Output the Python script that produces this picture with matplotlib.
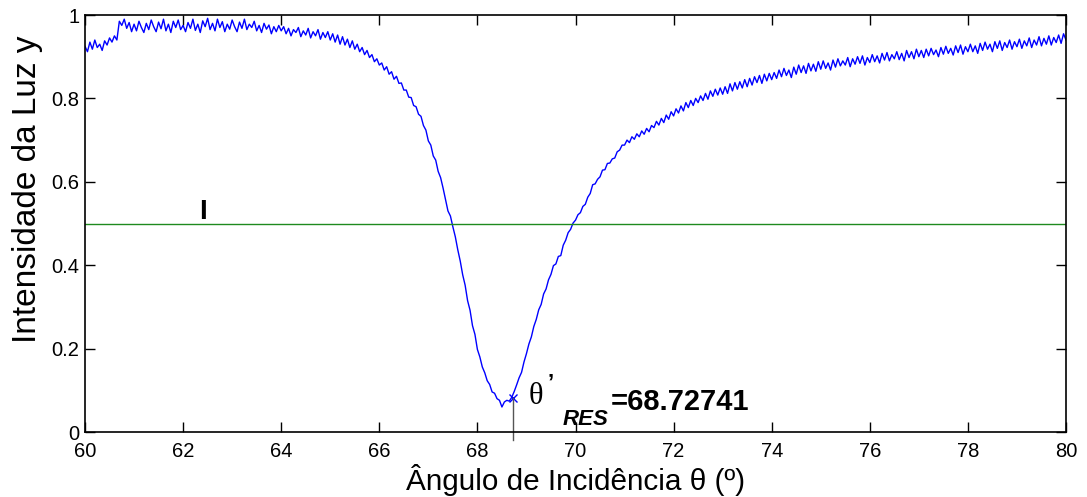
import numpy as np
import matplotlib
matplotlib.use("Agg")
import matplotlib.pyplot as plt

intensity = [
    # 60.00 - 60.65
    0.925, 0.912, 0.935, 0.918, 0.940, 0.922, 0.930, 0.915, 0.938, 0.928, 0.945, 0.935, 0.950, 0.940,
    # 60.70 - 64.00
    0.985, 0.975, 0.990, 0.968, 0.982, 0.960, 0.978, 0.962, 0.985, 0.970, 0.958, 0.980, 0.965, 0.988,
    0.972, 0.960, 0.983, 0.967, 0.990, 0.962, 0.978, 0.958, 0.985, 0.970, 0.988, 0.965, 0.975, 0.960,
    0.982, 0.968, 0.990, 0.963, 0.978, 0.958, 0.986, 0.972, 0.992, 0.965, 0.980, 0.962, 0.990, 0.970,
    0.984, 0.960, 0.978, 0.966, 0.988, 0.972, 0.960, 0.983, 0.968, 0.990, 0.965, 0.978, 0.970, 0.985,
    0.962, 0.975, 0.958, 0.980, 0.966, 0.976, 0.955, 0.972, 0.960, 0.975, 0.962,
    # 64.05 - 66.00
    0.972, 0.955, 0.968, 0.950, 0.965, 0.958, 0.970, 0.948, 0.962, 0.952, 0.968, 0.945, 0.960, 0.950,
    0.965, 0.942, 0.958, 0.946, 0.960, 0.940, 0.955, 0.935, 0.952, 0.930, 0.948, 0.928, 0.942, 0.922,
    0.938, 0.918, 0.930, 0.912, 0.922, 0.905, 0.915, 0.898, 0.905, 0.888, 0.895, 0.880,
    # 66.05 - 67.50
    0.885, 0.868, 0.876, 0.858, 0.864, 0.846, 0.853, 0.836, 0.837, 0.820, 0.820, 0.803, 0.802, 0.783,
    0.780, 0.762, 0.757, 0.735, 0.724, 0.698, 0.688, 0.662, 0.652, 0.625, 0.610, 0.585, 0.558, 0.530,
    0.518, 0.492,
    # 67.55 - 70.95
    0.468, 0.437, 0.410, 0.377, 0.352, 0.315, 0.292, 0.255, 0.234, 0.198, 0.180, 0.156, 0.142, 0.123,
    0.114, 0.096, 0.093, 0.080, 0.076, 0.060, 0.072, 0.076, 0.074, 0.083, 0.097, 0.113, 0.130, 0.143,
    0.168, 0.188, 0.211, 0.228, 0.253, 0.270, 0.293, 0.306, 0.331, 0.343, 0.365, 0.378, 0.399, 0.403,
    0.421, 0.423, 0.448, 0.460, 0.478, 0.486, 0.501, 0.508, 0.521, 0.526, 0.541, 0.546, 0.563, 0.572,
    0.593, 0.595, 0.606, 0.612, 0.628, 0.629, 0.644, 0.645, 0.655, 0.657, 0.672, 0.676, 0.688,
    # 71.00 - 72.00
    0.688, 0.700, 0.694, 0.708, 0.702, 0.715, 0.708, 0.722, 0.714, 0.728, 0.720, 0.735, 0.730, 0.745,
    0.736, 0.752, 0.742, 0.760, 0.750, 0.768, 0.758,
    # 72.05 - 73.00
    0.775, 0.765, 0.782, 0.770, 0.790, 0.778, 0.795, 0.783, 0.800, 0.790, 0.806, 0.795, 0.812, 0.798,
    0.818, 0.805, 0.822, 0.808, 0.825, 0.810,
    # 73.05 - 74.00
    0.828, 0.812, 0.835, 0.818, 0.838, 0.822, 0.840, 0.825, 0.845, 0.828, 0.848, 0.832, 0.852, 0.838,
    0.855, 0.836, 0.858, 0.842, 0.860, 0.845,
    # 74.05 - 75.00
    0.862, 0.848, 0.868, 0.852, 0.872, 0.855, 0.868, 0.850, 0.875, 0.858, 0.880, 0.862, 0.878, 0.860,
    0.884, 0.866, 0.882, 0.865, 0.888, 0.870,
    # 75.05 - 76.00
    0.890, 0.872, 0.885, 0.868, 0.892, 0.875, 0.895, 0.878, 0.890, 0.880, 0.898, 0.876, 0.895, 0.882,
    0.900, 0.884, 0.902, 0.880, 0.898, 0.886,
    # 76.05 - 77.00
    0.905, 0.888, 0.902, 0.885, 0.908, 0.892, 0.910, 0.890, 0.905, 0.895, 0.912, 0.893, 0.908, 0.890,
    0.915, 0.898, 0.912, 0.895, 0.918, 0.900,
    # 77.05 - 78.00
    0.915, 0.898, 0.918, 0.902, 0.920, 0.905, 0.916, 0.900, 0.922, 0.906, 0.925, 0.908, 0.920, 0.904,
    0.926, 0.910, 0.928, 0.906, 0.924, 0.912,
    # 78.05 - 79.00
    0.930, 0.912, 0.926, 0.908, 0.932, 0.915, 0.935, 0.918, 0.930, 0.912, 0.936, 0.920, 0.938, 0.915,
    0.934, 0.922, 0.940, 0.918, 0.936, 0.924,
    # 79.05 - 80.00
    0.942, 0.920, 0.938, 0.926, 0.945, 0.922, 0.940, 0.928, 0.948, 0.926, 0.944, 0.930, 0.950, 0.928,
    0.946, 0.934, 0.952, 0.932, 0.955, 0.940,
]
angle_start = 60.0
angle_step = 0.05
half_level = 0.5
theta_res = 68.72741
theta_res_y = 0.082
x_ticks = [60, 62, 64, 66, 68, 70, 72, 74, 76, 78, 80]
y_ticks = [0, 0.2, 0.4, 0.6, 0.8, 1.0]
y_tick_labels = ["0", "0.2", "0.4", "0.6", "0.8", "1"]

angles = angle_start + angle_step * np.arange(len(intensity))

plt.rcParams['font.family'] = ['Liberation Sans', 'DejaVu Sans']

fig = plt.figure(figsize=(10.87, 4.97), dpi=100)
ax = fig.add_axes([85 / 1087, 65 / 497, (1066 - 85) / 1087, (432 - 15) / 497])

ax.plot(angles, intensity, color='#0000ff', lw=1.0)
ax.axhline(half_level, color='#1f8a1f', lw=1.0)
ax.plot([theta_res], [theta_res_y], marker='x', color='#0000ff', ms=6, mew=1.0)
ax.plot([theta_res, theta_res], [theta_res_y, -0.018], color='#555555', lw=1.0, clip_on=False)

ax.set_xlim(60, 80)
ax.set_ylim(0, 1)
ax.set_xticks(x_ticks)
ax.set_yticks(y_ticks)
ax.set_yticklabels(y_tick_labels)
ax.tick_params(direction='in', length=7, width=1, top=True, right=True, labelsize=14.5)
ax.tick_params(axis='x', pad=7)
ax.tick_params(axis='y', pad=4)
for s in ax.spines.values():
    s.set_linewidth(1.2)

ax.set_xlabel("Ângulo de Incidência θ (º)", fontsize=21.4, labelpad=2)
ax.set_ylabel("Intensidade da Luz y", fontsize=24)
ax.yaxis.set_label_coords(-0.043, 0.583)

ax.text(62.33, 0.511, "I", fontsize=20, fontweight='bold', ha='left', va='baseline')
ax.text(69.05, 0.085, "θ", fontsize=22, family='Liberation Serif', ha='left', va='center')
ax.text(69.43, 0.118, "’", fontsize=16, fontweight='bold', ha='left', va='center')
ax.text(69.73, 0.017, "RES", fontsize=16, fontweight='bold', fontstyle='italic', ha='left', va='baseline')
ax.text(70.71, 0.053, "=68.72741", fontsize=21, fontweight='bold', ha='left', va='baseline')

fig.savefig("out.png", dpi=100)
